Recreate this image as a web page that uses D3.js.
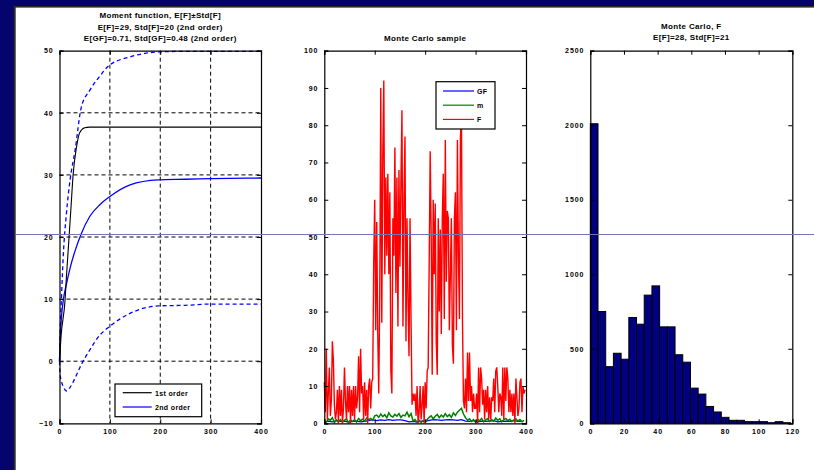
<!DOCTYPE html>
<meta charset="utf-8">
<title>Moment function and Monte Carlo sample</title>
<style>
  body { margin: 0; background: #04046c; }
  svg { display: block; }
  text { font-family: "Liberation Sans", Arial, sans-serif; font-weight: bold; fill: #000; }
  .tick text { font-size: 7px; letter-spacing: 0.9px; }
  .title { font-size: 8px; letter-spacing: 0.35px; }
  .domain { stroke: #000; }
  .tick line { stroke: #000; }
</style>
<body>
<script src="https://cdn.jsdelivr.net/npm/d3@7"></script>
<script>

// ---- left panel: moment function ----
var tFirst = [0, 3, 11, 14, 19, 23, 27, 34, 40, 50, 60, 400];
var firstOrder = [0, 3.9, 9.8, 13.9, 20, 25, 30, 34.6, 36.8, 37.6, 37.7, 37.7];

var tSecond = [0, 1, 4, 7.5, 14, 21, 31, 43, 60, 80, 98, 140, 196, 250, 300, 400];
var secondMean  = [0, 3, 7.2, 9.8, 12.5, 15, 17.8, 20.5, 23.3, 25.2, 26.4, 28.4, 29.2, 29.3, 29.4, 29.5];
var secondUpper = [0, 3.5, 10.4, 17, 24, 29.2, 34, 40.8, 43.6, 45.9, 47.6, 49, 49.8, 49.9, 49.9, 49.9];
var secondLower = [0, -2, -3.3, -4.1, -4.8, -4.2, -2.7, -0.6, 1.8, 4.2, 5.5, 7.7, 8.9, 9.0, 9.2, 9.2];

var leftTitle = ["Moment function, E[F]\u00b1Std[F]",
                 "E[F]=29, Std[F]=20 (2nd order)",
                 "E[GF]=0.71, Std[GF]=0.48 (2nd order)"];
var leftLegend = ["1st order", "2nd order"];

// ---- middle panel: Monte Carlo sample (F every 2 steps, m and GF every 4 / 8) ----
var sampleF = [
  11, 3, 20, 1, 8,   15, 2, 6, 22, 17,   5, 1, 3, 9, 0,   10, 2, 9, 0, 4,
  15, 6, 1, 10, 3,   10, 0, 9, 2, 10,   1, 10, 4, 7, 18,   3, 20, 8, 10, 1,
  11, 2, 9, 0, 10,   12, 4, 11, 12, 43,
  60, 25, 54, 24, 8,   35, 90, 27, 72, 92,   40, 66, 45, 67, 40,   62, 14, 8, 55, 45,
  74, 35, 66, 26, 68,   42, 65, 84, 26, 60,   77, 22, 55, 33, 18,   55, 28, 5, 8, 6,
  8, 2, 10, 0, 3,   10, 1, 5, 10, 0,
  11, 4, 14, 15, 43,   73, 50, 13, 60, 40,   59, 22, 13, 55, 30,   52, 24, 55, 67, 28,
  76, 38, 57, 55, 25,   40, 55, 21, 16, 55,   62, 25, 76, 45, 28,   77, 82, 28, 6, 4,
  12, 3, 19, 6, 19,   6, 10, 3, 8, 4,
  4, 8, 0, 15, 3,   15, 12, 5, 9, 1,   9, 3, 10, 1, 7,   1, 7, 6, 12, 3,
  14, 15, 10, 3, 8,   7, 2, 15, 1, 15,   6, 15, 12, 3, 9,   3, 8, 2, 8, 0,
  12, 7, 2, 4, 11,   12, 3, 10, 8, 9
];
var sampleM = [
  0.5, 0.3, 1.2, 0.8, 1.5, 0.2, 0.9, 0.4, 1.0, 0.3,
  0.8, 1.2, 0.2, 0.9, 0.5, 1.0, 0.3, 1.3, 0.7, 1.1,
  0.6, 1.4, 1.0, 1.3, 0.8, 2.0, 2.2, 1.6, 2.5, 1.8,
  2.3, 1.5, 2.8, 2.0, 1.7, 2.4, 1.9, 2.6, 1.6, 2.2,
  2.0, 3.0, 1.8, 2.6, 0.6, 1.0, 0.3, 0.8, 0.2, 0.7,
  0.5, 1.0, 1.6, 2.0, 1.2, 1.9, 2.4, 1.5, 2.2, 1.7,
  2.6, 1.8, 2.3, 1.6, 2.8, 2.1, 3.0, 3.5, 4.0, 2.5,
  1.5, 0.8, 1.2, 0.5, 1.0, 0.3, 1.1, 0.7, 1.3, 0.4,
  0.9, 1.2, 0.5, 1.0, 0.6, 1.4, 0.8, 1.2, 0.4, 1.0,
  1.3, 0.7, 1.1, 0.5, 0.9, 1.2, 0.6, 1.0, 0.4, 0.8
];
var sampleGF = [
  0.3, 0.6, 0.4, 0.7, 0.5, 0.6, 0.3, 0.5, 0.6, 0.4,
  0.5, 0.8, 0.9, 0.7, 0.9, 0.8, 1.0, 0.8, 0.9, 0.9,
  0.7, 0.4, 0.5, 0.3, 0.6, 0.5, 0.8, 1.0, 0.9, 0.8,
  0.9, 1.0, 0.9, 0.8, 1.0, 0.6, 0.5, 0.7, 0.4, 0.6,
  0.5, 0.6, 0.7, 0.4, 0.5, 0.6, 0.5, 0.7, 0.5, 0.6
];
var midLegend = ["GF", "m", "F"];

// ---- right panel: histogram of F ----
var histLo = 0, histHi = 119;
var histCounts = [2010, 750, 380, 470, 430, 710, 665, 860, 922, 647, 647, 460, 410,
                  236, 196, 113, 76, 40, 20, 20, 11, 11, 11, 4, 11, 4];
var rightTitle = ["Monte Carlo, F", "E[F]=28, Std[F]=21"];

// ---- layout ----
var width = 814, height = 470;
var plotTop = 50.7, plotBottom = 423.3;
var leftX = [59.5, 261], midX = [324.3, 526], rightX = [590.3, 792.3];

var svg = d3.select("body").append("svg")
  .attr("width", width)
  .attr("height", height);

svg.append("rect").attr("width", width).attr("height", height).attr("fill", "#04046c");
svg.append("rect").attr("x", 13.7).attr("y", 6).attr("width", width).attr("height", height).attr("fill", "#2a2a2a");
svg.append("rect").attr("x", 15.7).attr("y", 7.6).attr("width", width).attr("height", height).attr("fill", "#fff");

function frame(g, x, y, tickVals, yTickVals) {
  g.append("g").attr("transform", "translate(0," + plotBottom + ")")
    .call(d3.axisBottom(x).tickValues(tickVals).tickSize(-4).tickPadding(6).tickFormat(d3.format("d")));
  g.append("g").attr("transform", "translate(0," + plotTop + ")")
    .call(d3.axisTop(x).tickValues(tickVals).tickSize(-4).tickFormat(""));
  g.append("g").attr("transform", "translate(" + x.range()[0] + ",0)")
    .call(d3.axisLeft(y).tickValues(yTickVals).tickSize(-4).tickPadding(6).tickFormat(d3.format("d")));
  g.append("g").attr("transform", "translate(" + x.range()[1] + ",0)")
    .call(d3.axisRight(y).tickValues(yTickVals).tickSize(-4).tickFormat(""));
  g.selectAll(".domain").attr("stroke-width", 1.2);
}

// ---------- left ----------
var xL = d3.scaleLinear().domain([0, 400]).range(leftX);
var yL = d3.scaleLinear().domain([-10, 50]).range([plotBottom, plotTop]);
var gL = svg.append("g");

// dashed grid
gL.append("g").selectAll("line").data([100, 200, 300]).join("line")
  .attr("x1", d => xL(d)).attr("x2", d => xL(d))
  .attr("y1", plotTop).attr("y2", plotBottom)
  .attr("stroke", "#000").attr("stroke-width", 1).attr("stroke-dasharray", "4,3");
gL.append("g").selectAll("line").data([0, 10, 20, 30, 40]).join("line")
  .attr("x1", leftX[0]).attr("x2", leftX[1])
  .attr("y1", d => yL(d)).attr("y2", d => yL(d))
  .attr("stroke", "#000").attr("stroke-width", 1).attr("stroke-dasharray", "4,3");

function curve(ts, vs, color, dash, sw) {
  gL.append("path")
    .datum(ts.map((t, i) => [t, vs[i]]))
    .attr("fill", "none")
    .attr("stroke", color)
    .attr("stroke-width", sw)
    .attr("stroke-dasharray", dash)
    .attr("d", d3.line().x(d => xL(d[0])).y(d => yL(d[1])).curve(d3.curveMonotoneX));
}
curve(tSecond, secondUpper, "#0000ff", "4,3", 1.3);
curve(tSecond, secondLower, "#0000ff", "4,3", 1.3);
curve(tSecond, secondMean, "#0000ff", null, 1.3);
curve(tFirst, firstOrder, "#000", null, 1.1);

frame(gL, xL, yL, [0, 100, 200, 300, 400], [-10, 0, 10, 20, 30, 40, 50]);

gL.selectAll(".title").data(leftTitle).join("text").attr("class", "title")
  .attr("x", (leftX[0] + leftX[1]) / 2).attr("y", (d, i) => 18 + i * 11.6)
  .attr("text-anchor", "middle").text(d => d);

var legL = gL.append("g").attr("transform", "translate(115,384)");
legL.append("rect").attr("width", 86.7).attr("height", 32.7)
  .attr("fill", "#fff").attr("stroke", "#000").attr("stroke-width", 1.2);
legL.selectAll("line").data(leftLegend).join("line")
  .attr("x1", 7.7).attr("x2", 36.7)
  .attr("y1", (d, i) => 8.7 + i * 14.3).attr("y2", (d, i) => 8.7 + i * 14.3)
  .attr("stroke", (d, i) => i ? "#0000ff" : "#000").attr("stroke-width", 1.2);
legL.selectAll("text").data(leftLegend).join("text").attr("class", "title")
  .attr("x", 40).attr("y", (d, i) => 11.5 + i * 14.3).style("font-size", "7px").text(d => d);

// ---------- middle ----------
var xM = d3.scaleLinear().domain([0, 400]).range(midX);
var yM = d3.scaleLinear().domain([0, 100]).range([plotBottom, plotTop]);
var gM = svg.append("g");

function series(vals, step, color, sw) {
  gM.append("path")
    .datum(vals)
    .attr("fill", "none")
    .attr("stroke", color)
    .attr("stroke-width", sw)
    .attr("d", d3.line().x((d, i) => xM(i * step)).y(d => yM(d)));
}
series(sampleGF, 8, "#0000ff", 1.2);
series(sampleM, 4, "#008000", 1.5);
series(sampleF, 2, "#ff0000", 1.4);

frame(gM, xM, yM, [0, 100, 200, 300, 400], d3.range(0, 101, 10));

gM.append("text").attr("class", "title")
  .attr("x", (midX[0] + midX[1]) / 2).attr("y", 41)
  .attr("text-anchor", "middle").text("Monte Carlo sample");

var legM = gM.append("g").attr("transform", "translate(436,81.7)");
legM.append("rect").attr("width", 59).attr("height", 47.3)
  .attr("fill", "#fff").attr("stroke", "#000").attr("stroke-width", 1.2);
var midColors = ["#0000ff", "#008000", "#ff0000"];
legM.selectAll("line").data(midLegend).join("line")
  .attr("x1", 7).attr("x2", 38)
  .attr("y1", (d, i) => 9.3 + i * 14.2).attr("y2", (d, i) => 9.3 + i * 14.2)
  .attr("stroke", (d, i) => midColors[i]).attr("stroke-width", 1.2);
legM.selectAll("text").data(midLegend).join("text").attr("class", "title")
  .attr("x", 41).attr("y", (d, i) => 12 + i * 14.2).style("font-size", "7px").text(d => d);

// ---------- right ----------
var xR = d3.scaleLinear().domain([0, 120]).range(rightX);
var yR = d3.scaleLinear().domain([0, 2500]).range([plotBottom, plotTop]);
var gR = svg.append("g");
var binW = (histHi - histLo) / histCounts.length;

gR.selectAll("rect").data(histCounts).join("rect")
  .attr("x", (d, i) => xR(histLo + i * binW))
  .attr("width", (d, i) => xR(histLo + (i + 1) * binW) - xR(histLo + i * binW))
  .attr("y", d => yR(d))
  .attr("height", d => yR(0) - yR(d))
  .attr("fill", "#000080").attr("stroke", "#000").attr("stroke-width", 1);

frame(gR, xR, yR, d3.range(0, 121, 20), d3.range(0, 2501, 500));

gR.selectAll(".title").data(rightTitle).join("text").attr("class", "title")
  .attr("x", (rightX[0] + rightX[1]) / 2).attr("y", (d, i) => 29 + i * 11)
  .attr("text-anchor", "middle").text(d => d);

// thin horizontal line across the figure
svg.append("line")
  .attr("x1", 15.7).attr("x2", width)
  .attr("y1", 234.5).attr("y2", 234.5)
  .attr("stroke", "#7474b6").attr("stroke-width", 1);

</script>
</body>
